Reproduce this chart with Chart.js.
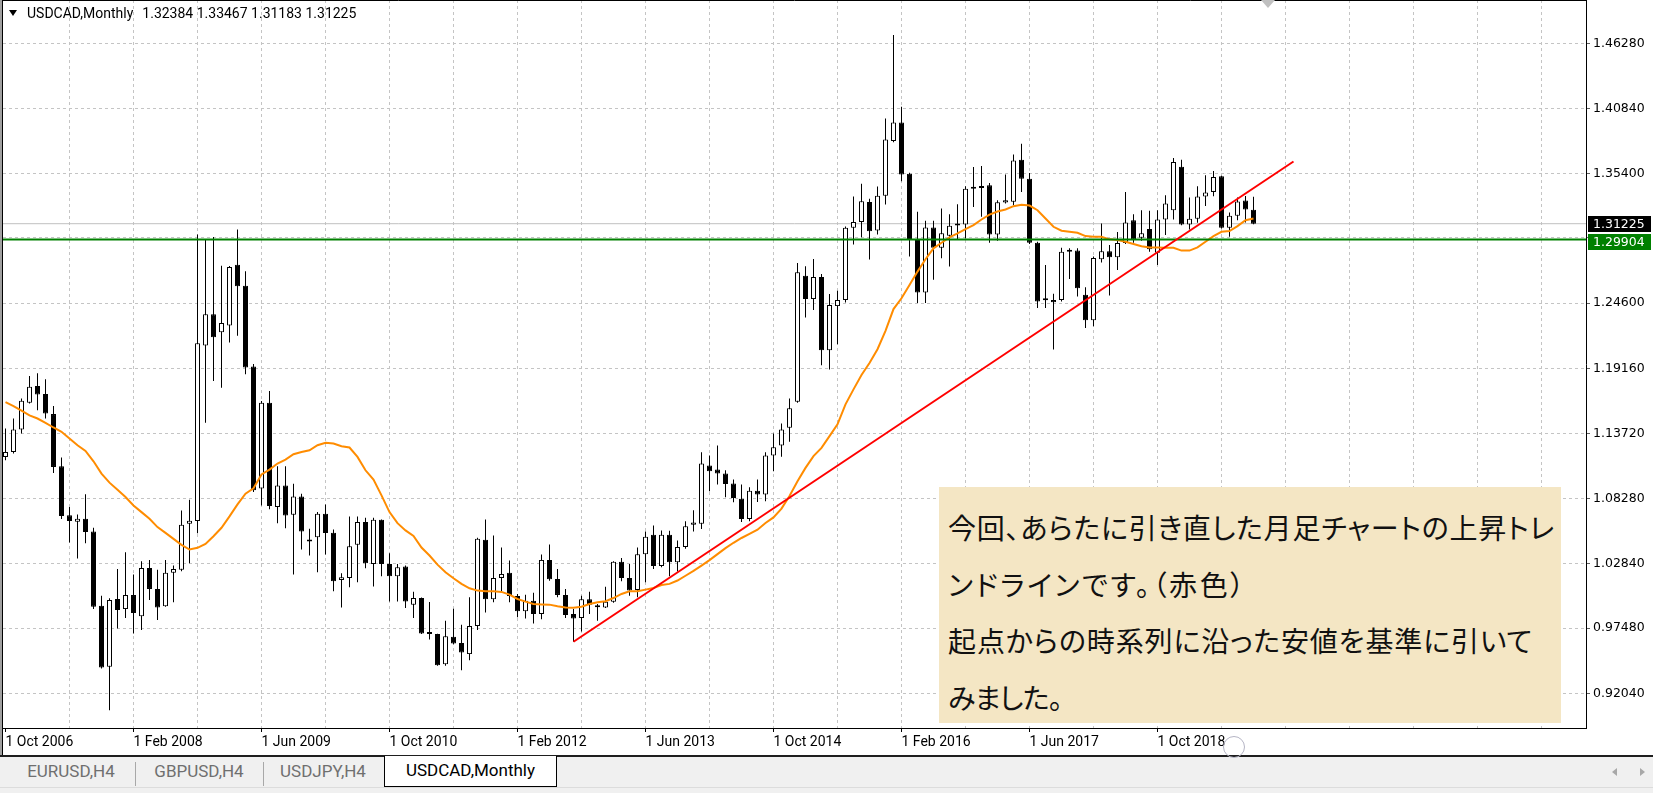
<!DOCTYPE html>
<html lang="ja">
<head>
<meta charset="UTF-8">
<title>USDCAD,Monthly</title>
<script src="https://cdn.jsdelivr.net/npm/chart.js"></script>
<style>
  html, body { margin: 0; padding: 0; }
  body { width: 1653px; height: 793px; overflow: hidden; background: #fff; position: relative; font-family: Roboto, sans-serif; }
  #chart { position: absolute; left: 0; top: 0; }
  .edge { position: absolute; top: 0; height: 755px; }
  .header { position: absolute; left: 9px; top: 4px; font-size: 14px; line-height: 18px; color: #000; white-space: nowrap; }
  .header .tri { display: inline-block; width: 0; height: 0; border-left: 4px solid transparent; border-right: 4px solid transparent; border-top: 6px solid #000; margin-right: 10px; vertical-align: 2px; }
  .header .ohlc { margin-left: 9px; }
  .shift { position: absolute; left: 1261px; top: 0; width: 0; height: 0; border-left: 7px solid transparent; border-right: 7px solid transparent; border-top: 8px solid #c0c0c0; }
  .note { position: absolute; left: 939px; top: 487px; width: 622px; height: 236px; box-sizing: border-box; padding: 12px 0 0 9px;
          background: #f4e6c4; color: #111; font-family: "Noto Sans CJK JP", sans-serif; font-size: 28px; line-height: 56.7px; white-space: nowrap;
          font-feature-settings: "palt"; }
  .note .ln { display: inline-block; }
  .tabbar { position: absolute; left: 0; top: 755px; width: 1653px; height: 38px; background: #f0f0f0; border-top: 2px solid #1e1e1e; box-sizing: border-box; }
  .tabbar .strip { position: absolute; left: 0; top: 30px; width: 100%; height: 1px; background: #dcdcdc; }
  .tab { position: absolute; top: 0; height: 30px; line-height: 29px; font-size: 17px; color: #6f6f6f; text-align: center; }
  .tab.active { top: -1px; height: 30px; background: #fff; border: 1px solid #000; border-top: none; color: #000; }
  .sep { position: absolute; top: 5px; width: 1px; height: 24px; background: #a8a8a8; }
  .arrow { position: absolute; top: 11px; width: 0; height: 0; border-top: 4px solid transparent; border-bottom: 4px solid transparent; }
  .cursor { position: absolute; left: 1223px; top: 736px; width: 22px; height: 22px; border: 1px solid #b4b4c4; border-radius: 50%; box-sizing: border-box; }
</style>
</head>
<body>
<canvas id="chart" width="1653" height="755"></canvas>
<div class="edge" style="left:0;width:2px;background:#a0a0a0"></div>
<div class="edge" style="left:2px;width:1px;background:#000"></div>
<div class="header"><span class="tri"></span>USDCAD,Monthly<span class="ohlc">1.32384 1.33467 1.31183 1.31225</span></div>
<div class="shift"></div>
<div class="note"><span class="ln" data-w="607">今回、あらたに引き直した月足チャートの上昇トレ</span><br><span class="ln" data-w="299">ンドラインです。（赤色）</span><br><span class="ln" data-w="585">起点からの時系列に沿った安値を基準に引いて</span><br><span class="ln" data-w="114">みました。</span></div>
<div class="tabbar">
  <div class="strip"></div>
  <div class="tab" style="left:7px;width:128px">EURUSD,H4</div>
  <div class="sep" style="left:135px"></div>
  <div class="tab" style="left:135px;width:128px">GBPUSD,H4</div>
  <div class="sep" style="left:263px"></div>
  <div class="tab" style="left:263px;width:120px">USDJPY,H4</div>
  <div class="tab active" style="left:384px;width:171px">USDCAD,Monthly</div>
  <div class="arrow" style="left:1612px;border-right:5px solid #a8a8a8"></div>
  <div class="arrow" style="left:1640px;border-left:5px solid #a8a8a8"></div>
</div>
<div class="cursor"></div>

<script>
// monthly candles, index 0 = Oct 2006 ... 156 = Oct 2019
const opens = [
  1.1176,1.1218,1.1405,1.1629,1.1768,1.1701,1.1534,1.1099,1.0689,1.0635,
  1.0660,1.0555,0.9935,0.9425,0.9991,0.9907,1.0024,0.9846,1.0250,1.0075,
  0.9930,1.0209,1.0236,1.0619,1.0641,1.2106,1.2368,1.2217,1.2273,1.2781,
  1.2605,1.1930,1.0912,1.1629,1.0758,1.0939,1.0694,1.0847,1.0474,1.0507,
  1.0702,1.0543,1.0150,1.0167,1.0443,1.0633,1.0283,1.0652,1.0283,1.0181,
  1.0262,0.9943,0.9999,0.9709,0.9698,0.9447,0.9676,0.9623,0.9531,0.9765,
  1.0485,0.9988,1.0167,1.0209,1.0016,0.9888,0.9977,0.9866,1.0317,1.0158,
  1.0025,0.9866,0.9832,0.9988,0.9930,0.9921,0.9969,1.0301,1.0167,1.0066,
  1.0365,1.0527,1.0267,1.0527,1.0298,1.0425,1.0611,1.0619,1.1105,1.1071,
  1.1038,1.0954,1.0828,1.0658,1.0895,1.0862,1.1188,1.1272,1.1420,1.1637,
  1.2689,1.2494,1.2678,1.2067,1.2435,1.2486,1.3088,1.3136,1.3303,1.3066,
  1.3356,1.3813,1.3967,1.3540,1.2986,1.2549,1.3091,1.2922,1.3022,1.3116,
  1.3116,1.3415,1.3432,1.3443,1.3033,1.3300,1.3305,1.3656,1.3498,1.2964,
  1.2485,1.2485,1.2485,1.2900,1.2900,1.2529,1.2316,1.2826,1.2892,1.2842,
  1.2961,1.3152,1.3006,1.3078,1.2880,1.3158,1.3235,1.3598,1.3116,1.3163,
  1.3349,1.3388,1.3518,1.3089,1.3188,1.3316,1.32384
];
const highs = [
  1.1414,1.1497,1.1665,1.1852,1.1874,1.1824,1.1601,1.1171,1.0758,1.0697,
  1.0864,1.0585,1.0019,0.9997,1.0242,1.0381,1.0195,1.0306,1.0317,1.0234,
  1.0317,1.0270,1.0730,1.0819,1.3032,1.2996,1.3012,1.2772,1.2770,1.3074,
  1.2725,1.1952,1.1643,1.1726,1.1098,1.1098,1.0953,1.0870,1.0577,1.0716,
  1.0780,1.0571,1.0206,1.0680,1.0680,1.0669,1.0669,1.0655,1.0373,1.0284,
  1.0270,1.0052,1.0003,0.9966,0.9700,0.9810,0.9910,0.9776,1.0005,1.0502,
  1.0655,1.0521,1.0421,1.0312,1.0033,1.0027,1.0044,1.0362,1.0446,1.0242,
  1.0075,0.9907,1.0019,1.0052,0.9949,1.0094,1.0306,1.0334,1.0284,1.0421,
  1.0555,1.0605,1.0563,1.0560,1.0480,1.0640,1.0731,1.1216,1.1188,1.1272,
  1.1066,1.0988,1.0946,1.0923,1.0988,1.1216,1.1372,1.1456,1.1665,1.2795,
  1.2767,1.2829,1.2703,1.2536,1.2564,1.3099,1.3350,1.3456,1.3331,1.3434,
  1.4000,1.4698,1.4098,1.3548,1.3222,1.3147,1.3147,1.3249,1.3202,1.3285,
  1.3435,1.3595,1.3604,1.3462,1.3318,1.3534,1.3701,1.3789,1.3546,1.2972,
  1.2779,1.2538,1.2922,1.2917,1.2917,1.2593,1.2848,1.3125,1.2945,1.3053,
  1.3388,1.3202,1.3235,1.3230,1.3235,1.3360,1.3670,1.3656,1.3341,1.3435,
  1.3526,1.3562,1.3523,1.3216,1.3341,1.3354,1.33467
];
const lows = [
  1.1149,1.1205,1.1372,1.1623,1.1567,1.1497,1.1043,1.0658,1.0462,1.0329,
  1.0457,0.9907,0.9411,0.9062,0.9745,0.9832,0.9704,0.9732,0.9983,0.9815,
  0.9927,0.9963,1.0222,1.0289,1.0540,1.1461,1.1810,1.1754,1.2131,1.2187,
  1.1866,1.0884,1.0772,1.0739,1.0624,1.0582,1.0195,1.0404,1.0353,1.0214,
  1.0362,1.0055,0.9921,1.0089,1.0130,1.0248,1.0095,1.0181,0.9971,0.9971,
  0.9916,0.9832,0.9698,0.9653,0.9433,0.9433,0.9614,0.9397,0.9480,0.9732,
  0.9879,0.9963,1.0050,0.9963,0.9838,0.9829,0.9787,0.9821,1.0144,1.0005,
  0.9832,0.9634,0.9720,0.9866,0.9810,0.9916,0.9960,1.0139,1.0019,1.0005,
  1.0131,1.0242,1.0256,1.0180,1.0220,1.0410,1.0555,1.0575,1.0890,1.0946,
  1.0840,1.0798,1.0633,1.0639,1.0800,1.0806,1.1057,1.1177,1.1303,1.1629,
  1.2340,1.2402,1.1941,1.1905,1.2117,1.2466,1.2949,1.3010,1.2823,1.3032,
  1.3283,1.3802,1.3476,1.2848,1.2460,1.2460,1.2654,1.2834,1.2765,1.2992,
  1.3000,1.3263,1.3180,1.2964,1.2981,1.3291,1.3277,1.3388,1.2953,1.2419,
  1.2419,1.2072,1.2474,1.2662,1.2515,1.2252,1.2266,1.2798,1.2524,1.2737,
  1.2953,1.2964,1.2981,1.2889,1.2779,1.3028,1.3158,1.3110,1.3075,1.3130,
  1.3271,1.3352,1.3083,1.3014,1.3152,1.3133,1.31183
];
const closes = [
  1.1218,1.1405,1.1645,1.1763,1.1698,1.1539,1.1093,1.0683,1.0641,1.0660,
  1.0549,0.9927,0.9419,0.9983,0.9899,1.0024,0.9874,1.0250,1.0075,0.9921,
  1.0209,1.0242,1.0610,1.0644,1.2125,1.2368,1.2175,1.2293,1.2761,1.2600,
  1.1922,1.0898,1.1629,1.0767,1.0939,1.0688,1.0847,1.0554,1.0470,1.0702,
  1.0541,1.0139,1.0172,1.0432,1.0633,1.0289,1.0652,1.0283,1.0181,1.0256,
  0.9971,0.9999,0.9704,0.9698,0.9439,0.9681,0.9620,0.9545,0.9765,1.0493,
  0.9988,1.0167,1.0200,1.0016,0.9888,0.9977,0.9866,1.0317,1.0156,1.0025,
  0.9857,0.9829,0.9988,0.9944,0.9922,0.9969,1.0301,1.0167,1.0061,1.0365,
  1.0510,1.0267,1.0527,1.0298,1.0425,1.0597,1.0630,1.1121,1.1057,1.1038,
  1.0951,1.0834,1.0658,1.0895,1.0862,1.1188,1.1258,1.1406,1.1582,1.2717,
  1.2494,1.2678,1.2067,1.2444,1.2486,1.3088,1.3136,1.3311,1.3060,1.3356,
  1.3825,1.3967,1.3534,1.2996,1.2549,1.3091,1.2922,1.3042,1.3105,1.3108,
  1.3415,1.3432,1.3421,1.3033,1.3302,1.3318,1.3651,1.3498,1.2964,1.2474,
  1.2483,1.2468,1.2889,1.2889,1.2585,1.2316,1.2837,1.2892,1.2842,1.2961,
  1.3133,1.2992,1.3042,1.2909,1.3158,1.3291,1.3637,1.3116,1.3163,1.3349,
  1.3382,1.3512,1.3089,1.3188,1.3307,1.3241,1.31225
];
// orange moving average, read per candle
const maValues = [
  1.1634,1.1601,1.1562,1.1523,1.1497,1.1461,1.1422,1.1386,1.1330,1.1274,
  1.1227,1.1140,1.1037,1.0962,1.0903,1.0842,1.0772,1.0716,1.0660,1.0591,
  1.0543,1.0493,1.0443,1.0404,1.0418,1.0451,1.0515,1.0585,1.0680,1.0780,
  1.0870,1.0915,1.1030,1.1071,1.1121,1.1154,1.1199,1.1218,1.1232,1.1274,
  1.1294,1.1288,1.1266,1.1255,1.1177,1.1065,1.0987,1.0856,1.0716,1.0624,
  1.0563,1.0517,1.0420,1.0354,1.0278,1.0214,1.0164,1.0117,1.0080,1.0061,
  1.0055,1.0055,1.0050,1.0027,0.9991,0.9969,0.9949,0.9946,0.9944,0.9930,
  0.9921,0.9918,0.9927,0.9949,0.9963,0.9972,0.9999,1.0033,1.0055,1.0055,
  1.0069,1.0083,1.0108,1.0117,1.0145,1.0185,1.0225,1.0270,1.0315,1.0365,
  1.0415,1.0460,1.0500,1.0535,1.0569,1.0625,1.0672,1.0745,1.0850,1.0973,
  1.1085,1.1183,1.1252,1.1350,1.1448,1.1615,1.1740,1.1860,1.1960,1.2075,
  1.2229,1.2410,1.2500,1.2612,1.2723,1.2826,1.2917,1.2964,1.3008,1.3042,
  1.3078,1.3111,1.3158,1.3199,1.3224,1.3241,1.3269,1.3280,1.3274,1.3235,
  1.3166,1.3097,1.3064,1.3055,1.3047,1.3019,1.3014,1.3014,1.2992,1.2986,
  1.2972,1.2953,1.2934,1.2925,1.2925,1.2922,1.2922,1.2898,1.2898,1.2925,
  1.2972,1.3019,1.3055,1.3061,1.3102,1.3152,1.3166
];
const xTickLabels = ['1 Oct 2006', '1 Feb 2008', '1 Jun 2009', '1 Oct 2010', '1 Feb 2012',
                     '1 Jun 2013', '1 Oct 2014', '1 Feb 2016', '1 Jun 2017', '1 Oct 2018'];
const yTicks = [0.9204, 0.9748, 1.0284, 1.0828, 1.1372, 1.1916, 1.2460, 1.3004, 1.3540, 1.4084, 1.4628];
const yTickLabels = ['0.92040', '0.97480', '1.02840', '1.08280', '1.13720', '1.19160', '1.24600', '', '1.35400', '1.40840', '1.46280'];
const trendStart = [71, 0.9634];
const trendEnd = [161, 1.3642];
const bidPrice = 1.31225;
const supportLevel = 1.29904;

// view window
const X_MIN = -0.3125, X_MAX = 197.5625;
const Y_MAX = 1.49893, Y_MIN = 0.89145;

const gridSteps = [];
for (let k = 0; k <= 192; k += 8) gridSteps.push(k);

const isUp = i => closes[i] >= opens[i];

// squeeze each note line to the width it has in the screenshot
document.querySelectorAll('.note .ln').forEach(el => {
    const n = [...el.textContent].length;
    const w = el.getBoundingClientRect().width;
    el.style.letterSpacing = ((+el.dataset.w - w) / n).toFixed(2) + 'px';
});

const priceTagPlugin = {
    id: 'priceTags',
    afterDraw(chart) {
        const { ctx, chartArea: a, scales: { y } } = chart;
        ctx.save();
        // top edge of the chart frame
        ctx.strokeStyle = '#000';
        ctx.lineWidth = 1;
        ctx.beginPath();
        ctx.moveTo(a.left, a.top + 0.5);
        ctx.lineTo(a.right, a.top + 0.5);
        ctx.stroke();

        const tags = [{ value: bidPrice, color: '#000' }, { value: supportLevel, color: '#008000' }];
        let prevBottom = -Infinity;
        ctx.font = '12.5px "DejaVu Sans"';
        ctx.textBaseline = 'middle';
        ctx.textAlign = 'left';
        tags.forEach(t => {
            let top = Math.round(y.getPixelForValue(t.value) - 8);
            if (top < prevBottom + 2) top = prevBottom + 2;
            ctx.fillStyle = t.color;
            ctx.fillRect(a.right + 2, top, 63, 16);
            ctx.fillStyle = '#fff';
            ctx.fillText(t.value.toFixed(5), a.right + 7, top + 8.5);
            prevBottom = top + 16;
        });
        ctx.restore();
    }
};

const ctx = document.getElementById('chart').getContext('2d');
new Chart(ctx, {
    type: 'bar',
    data: {
        datasets: [
            {
                type: 'line',
                data: [{ x: X_MIN, y: bidPrice }, { x: X_MAX, y: bidPrice }],
                borderColor: '#c0c0c0', borderWidth: 1, pointRadius: 0, order: 5
            },
            {
                data: lows.map((l, i) => ({ x: i, y: [l, highs[i]] })),
                backgroundColor: '#000', borderWidth: 0,
                barThickness: 1, grouped: false, inflateAmount: 0, order: 4
            },
            {
                data: opens.map((o, i) => ({ x: i, y: [o, closes[i]] })),
                backgroundColor: c => isUp(c.dataIndex) ? '#fff' : '#000',
                borderColor: '#000', borderWidth: 1, borderSkipped: false,
                barThickness: 5, grouped: false, inflateAmount: 0, minBarLength: 2, order: 3
            },
            {
                type: 'line',
                data: maValues.map((v, i) => ({ x: i, y: v })),
                borderColor: '#ff8c00', borderWidth: 2, pointRadius: 0, tension: 0, order: 2
            },
            {
                type: 'line',
                data: [{ x: X_MIN, y: supportLevel }, { x: X_MAX, y: supportLevel }],
                borderColor: '#008000', borderWidth: 2, pointRadius: 0, order: 1
            },
            {
                type: 'line',
                data: [{ x: trendStart[0], y: trendStart[1] }, { x: trendEnd[0], y: trendEnd[1] }],
                borderColor: '#ff0000', borderWidth: 2, pointRadius: 0, order: 0
            }
        ]
    },
    options: {
        responsive: false,
        animation: false,
        events: [],
        layout: { padding: { left: 3, top: 0, right: 0, bottom: 0 } },
        plugins: { legend: { display: false }, tooltip: { enabled: false } },
        scales: {
            x: {
                type: 'linear', min: X_MIN, max: X_MAX, offset: false,
                afterBuildTicks: s => { s.ticks = gridSteps.map(v => ({ value: v })); },
                afterFit: s => { s.height = 27; s.paddingLeft = 0; s.paddingRight = 0; },
                ticks: {
                    autoSkip: false, maxRotation: 0, minRotation: 0, align: 'start', padding: 2,
                    color: '#000', font: { family: 'Roboto', size: 14 },
                    callback: v => (v % 16 === 0 && xTickLabels[v / 16]) ? xTickLabels[v / 16] : ''
                },
                grid: {
                    offset: false,
                    color: c => (c.tick && c.tick.value === 0) ? 'rgba(0,0,0,0)' : '#c4c4c4',
                    tickLength: 4, tickWidth: 1, tickBorderDash: [],
                    tickColor: c => (c.tick && c.tick.value % 16 === 0 && xTickLabels[c.tick.value / 16]) ? '#000' : 'rgba(0,0,0,0)'
                },
                border: { display: true, color: '#000', width: 1, dash: [3, 3] }
            },
            y: {
                type: 'linear', position: 'right', min: Y_MIN, max: Y_MAX,
                afterBuildTicks: s => { s.ticks = yTicks.map(v => ({ value: v })); },
                afterFit: s => { s.width = 67; s.paddingTop = 0; s.paddingBottom = 0; },
                ticks: {
                    padding: 3, color: '#000', crossAlign: 'near',
                    font: { family: 'DejaVu Sans', size: 12.5 },
                    callback: (v, i) => yTickLabels[i]
                },
                grid: { color: '#c4c4c4', tickLength: 4, tickWidth: 1, tickColor: '#606060', tickBorderDash: [] },
                border: { display: true, color: '#000', width: 1, dash: [3, 3] }
            }
        }
    },
    plugins: [priceTagPlugin]
});
</script>
</body>
</html>
